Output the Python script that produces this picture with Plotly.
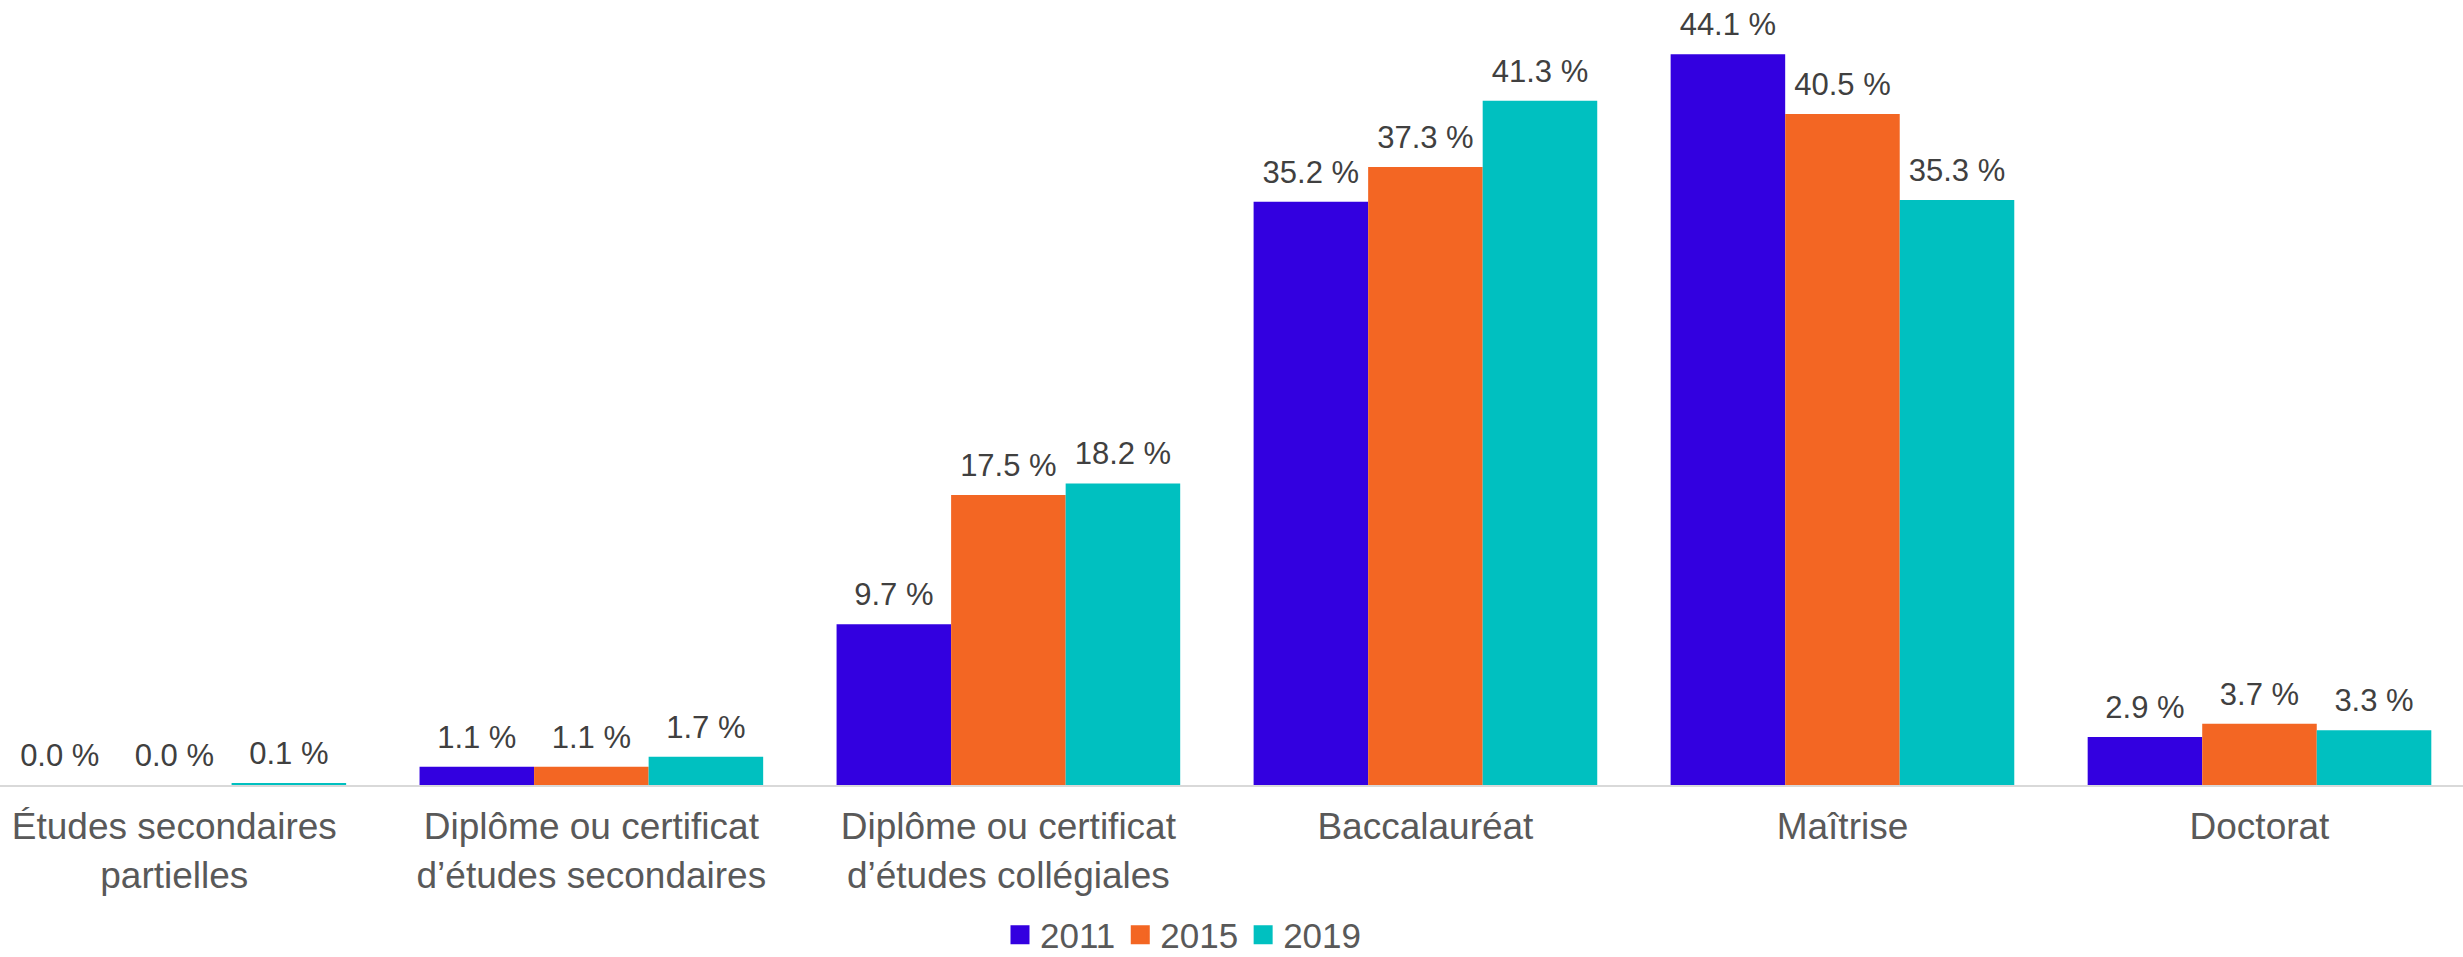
import plotly.graph_objects as go

# Share of graduates by highest level of education, per survey year
categories = [
    "Études secondaires<br>partielles",
    "Diplôme ou certificat<br>d’études secondaires",
    "Diplôme ou certificat<br>d’études collégiales",
    "Baccalauréat",
    "Maîtrise",
    "Doctorat",
]
years = ["2011", "2015", "2019"]
values_2011 = [0.0, 1.1, 9.7, 35.2, 44.1, 2.9]
values_2015 = [0.0, 1.1, 17.5, 37.3, 40.5, 3.7]
values_2019 = [0.1, 1.7, 18.2, 41.3, 35.3, 3.3]

series = [values_2011, values_2015, values_2019]
colors = ["#3300E0", "#F36623", "#00C0C0"]

FONT = "Arial, 'Liberation Sans', sans-serif"
W, H = 2463, 957
BOTTOM = 172
GAP = 0.176

fig = go.Figure()

# bars
for year, vals, col in zip(years, series, colors):
    fig.add_trace(go.Bar(
        x=categories, y=vals, name=year,
        marker=dict(color=col, line=dict(width=0)),
        showlegend=False, hoverinfo="skip",
    ))

# value labels, grouped the same way as the bars
for year, vals, col in zip(years, series, colors):
    fig.add_trace(go.Scatter(
        x=categories, y=vals, mode="markers+text",
        text=[f"{v:.1f} %" for v in vals],
        textposition="top center",
        textfont=dict(family=FONT, size=31, color="#404040"),
        marker=dict(size=16.4, opacity=0, color=col),
        cliponaxis=False, showlegend=False, hoverinfo="skip",
    ))

# legend entries
for year, col in zip(years, colors):
    fig.add_trace(go.Scatter(
        x=[None], y=[None], mode="markers", name=year,
        marker=dict(symbol="square", size=16, color=col,
                    line=dict(width=3, color=col)),
        xaxis="x2", yaxis="y2", showlegend=True,
    ))

plot_h = H - BOTTOM
fig.update_layout(
    width=W, height=H,
    margin=dict(l=0, r=0, t=0, b=BOTTOM, pad=0, autoexpand=False),
    paper_bgcolor="white", plot_bgcolor="white",
    barmode="group", bargap=GAP, bargroupgap=0,
    scattermode="group", scattergap=GAP,
    font=dict(family=FONT, color="#595959"),
    xaxis=dict(
        type="category", range=[-0.418, 5.488], automargin=False,
        showline=True, linecolor="#D9D9D9", linewidth=2,
        ticks="", showgrid=False, zeroline=False, ticklabelstandoff=8,
        tickfont=dict(family=FONT, size=37, color="#595959"),
    ),
    yaxis=dict(range=[0, plot_h / 16.57], visible=False, showgrid=False,
               automargin=False),
    xaxis2=dict(overlaying="x", visible=False),
    yaxis2=dict(overlaying="y", visible=False),
    legend=dict(
        orientation="h", x=1000 / W, xanchor="left",
        y=-(935 - plot_h) / plot_h, yanchor="middle",
        font=dict(family=FONT, size=35, color="#595959"),
        bgcolor="rgba(0,0,0,0)",
    ),
    hovermode=False,
)

fig.write_html("out.html")
